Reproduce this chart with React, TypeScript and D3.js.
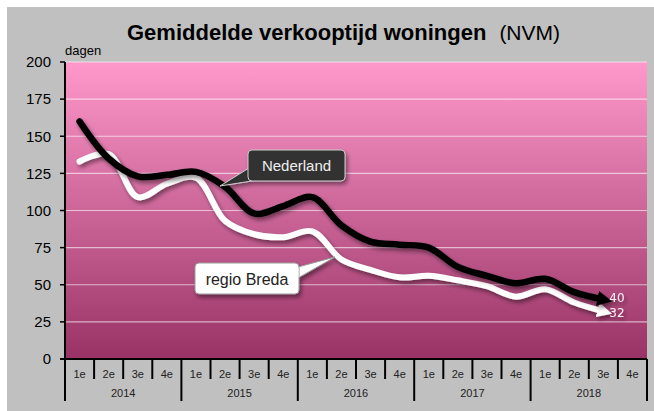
import React from 'react';
import * as d3 from 'd3';

// kwartalen en jaren op de x-as
const quarters = ['1e', '2e', '3e', '4e'];
const years = ['2014', '2015', '2016', '2017', '2018'];

// gemiddelde verkooptijd in dagen, per kwartaal (t/m 3e kwartaal 2018)
const nederland = [160, 135, 123, 124, 126, 116, 98, 103, 109, 90, 79, 77, 75, 62, 56, 51, 54, 45, 40];
const breda = [133, 138, 109, 118, 122, 93, 84, 82, 86, 67, 60, 55, 56, 53, 49, 42, 47, 38, 32];

const yTicks = [0, 25, 50, 75, 100, 125, 150, 175, 200];

const W = 654;
const H = 411;
const margin = { top: 62, right: 7, bottom: 52, left: 65 };
const font = '"Liberation Sans", Arial, sans-serif';

const App: React.FC = () => {
  const keys = years.flatMap(y => quarters.map(q => `${y}-${q}`));

  const x = d3.scaleBand<string>()
    .domain(keys)
    .range([margin.left, W - margin.right]);

  const y = d3.scaleLinear()
    .domain([0, 200])
    .range([H - margin.bottom, margin.top]);

  const cx = (i: number) => (x(keys[i]) || 0) + x.bandwidth() / 2;

  const line = d3.line<number>()
    .x((_, i) => cx(i))
    .y(d => y(d))
    .curve(d3.curveCatmullRom.alpha(0.5));

  const y0 = y(0);
  const x0 = margin.left;
  const x1 = W - margin.right;
  const yearW = x.bandwidth() * quarters.length;

  const lastN = nederland.length - 1;
  const lastB = breda.length - 1;

  return (
    <svg width={W} height={H} style={{ position: 'absolute', left: 0, top: 0 }}>
      <defs>
        <linearGradient id="plotBg" x1="0" y1="0" x2="0" y2="1">
          <stop offset="0%" stopColor="#ff99cc" />
          <stop offset="100%" stopColor="#993366" />
        </linearGradient>
        <filter id="shadow" x="-10%" y="-10%" width="130%" height="140%">
          <feDropShadow dx="2" dy="3" stdDeviation="2" floodColor="#000" floodOpacity="0.45" />
        </filter>
        <marker id="arrowBlack" viewBox="0 0 10 10" refX="4" refY="5"
          markerUnits="userSpaceOnUse" markerWidth="15" markerHeight="15" orient="auto">
          <path d="M0,0 L10,5 L0,10 z" fill="#000" />
        </marker>
        <marker id="arrowWhite" viewBox="0 0 10 10" refX="4" refY="5"
          markerUnits="userSpaceOnUse" markerWidth="15" markerHeight="15" orient="auto">
          <path d="M0,0 L10,5 L0,10 z" fill="#fff" />
        </marker>
      </defs>

      <rect x={0} y={0} width={W} height={H} fill="#fff" />
      <rect x={7} y={7} width={W - 7} height={H - 7} fill="#c0c0c0" />

      {/* titel */}
      <text x={127} y={40} fontFamily={font} fontSize={22} fontWeight="bold" fill="#000">
        Gemiddelde verkooptijd woningen
        <tspan fontWeight="normal" fontSize={21} dx={13}>(NVM)</tspan>
      </text>
      <text x={x0} y={55} fontFamily={font} fontSize={13} fill="#000">dagen</text>

      {/* plotgebied */}
      <rect x={x0} y={y(200)} width={x1 - x0} height={y0 - y(200)} fill="url(#plotBg)" />
      {yTicks.filter(t => t > 0).map(t => (
        <line key={t} x1={x0} x2={x1} y1={y(t)} y2={y(t)}
          stroke="#fff" strokeOpacity={0.6} strokeWidth={1.2} />
      ))}

      {/* y-as */}
      <line x1={x0} x2={x0} y1={y(200)} y2={y0} stroke="#000" strokeWidth={2} />
      {yTicks.map(t => (
        <g key={t}>
          <line x1={x0 - 5} x2={x0} y1={y(t)} y2={y(t)} stroke="#000" strokeWidth={1.5} />
          <text x={51} y={y(t)} dy="0.35em" textAnchor="end" fontFamily={font} fontSize={15} fill="#000">{t}</text>
        </g>
      ))}

      {/* x-as */}
      <line x1={x0 - 5} x2={x1} y1={y0} y2={y0} stroke="#000" strokeWidth={2} />
      {keys.map((k, i) => {
        const bx = x(k) || 0;
        const q = quarters[i % quarters.length];
        return (
          <g key={k}>
            {i % quarters.length !== 0 && (
              <line x1={bx} x2={bx} y1={y0} y2={y0 + 20} stroke="#000" strokeWidth={2} />
            )}
            <text x={bx + x.bandwidth() / 2} y={y0 + 15} dy="0.35em" textAnchor="middle"
              fontFamily={font} fontSize={11} fill="#222">{q}</text>
          </g>
        );
      })}
      {years.map(yr => {
        const bx = x(`${yr}-1e`) || 0;
        return (
          <g key={yr}>
            <line x1={bx} x2={bx} y1={y0} y2={y0 + 42} stroke="#000" strokeWidth={2} />
            <text x={bx + yearW / 2} y={y0 + 34} dy="0.35em" textAnchor="middle"
              fontFamily={font} fontSize={11} fill="#222">{yr}</text>
          </g>
        );
      })}
      <line x1={x1} x2={x1} y1={y0} y2={y0 + 42} stroke="#000" strokeWidth={2} />

      {/* lijnen */}
      <path d={line(breda) || ''} fill="none" stroke="#fff" strokeWidth={6}
        strokeLinecap="round" strokeLinejoin="round" markerEnd="url(#arrowWhite)" filter="url(#shadow)" />
      <path d={line(nederland) || ''} fill="none" stroke="#000" strokeWidth={6.5}
        strokeLinecap="round" strokeLinejoin="round" markerEnd="url(#arrowBlack)" filter="url(#shadow)" />

      {/* eindwaarden */}
      <g fontFamily='"DejaVu Sans", Verdana, sans-serif' fontSize={12} fill="#fbeef4" filter="url(#shadow)">
        <text x={cx(lastN) + 6} y={y(nederland[lastN]) - 2} dy="0.35em">{nederland[lastN]}</text>
        <text x={cx(lastB) + 6} y={y(breda[lastB]) + 1} dy="0.35em">{breda[lastB]}</text>
      </g>

      {/* labels */}
      <g filter="url(#shadow)">
        <path d="M249,168 L258,180 L220,186 Z" fill="#333" stroke="#ccc" strokeWidth={1} />
        <rect x={248} y={150} width={97} height={31} rx={4} fill="#333" stroke="#ccc" strokeWidth={1} />
        <path d="M252,169 L259,179" stroke="#333" strokeWidth={3} />
      </g>
      <text x={296.5} y={166} dy="0.35em" textAnchor="middle" fontFamily={font} fontSize={15} fill="#eee">Nederland</text>

      <g filter="url(#shadow)">
        <path d="M298,267 L298,278 L335,257 Z" fill="#fff" stroke="#999" strokeWidth={1} />
        <rect x={195} y={263} width={104} height={31} rx={4} fill="#fff" stroke="#999" strokeWidth={1} />
        <path d="M297,268 L297,277" stroke="#fff" strokeWidth={3} />
      </g>
      <text x={247} y={279} dy="0.35em" textAnchor="middle" fontFamily={font} fontSize={16} fill="#222">regio Breda</text>
    </svg>
  );
};

export default App;
